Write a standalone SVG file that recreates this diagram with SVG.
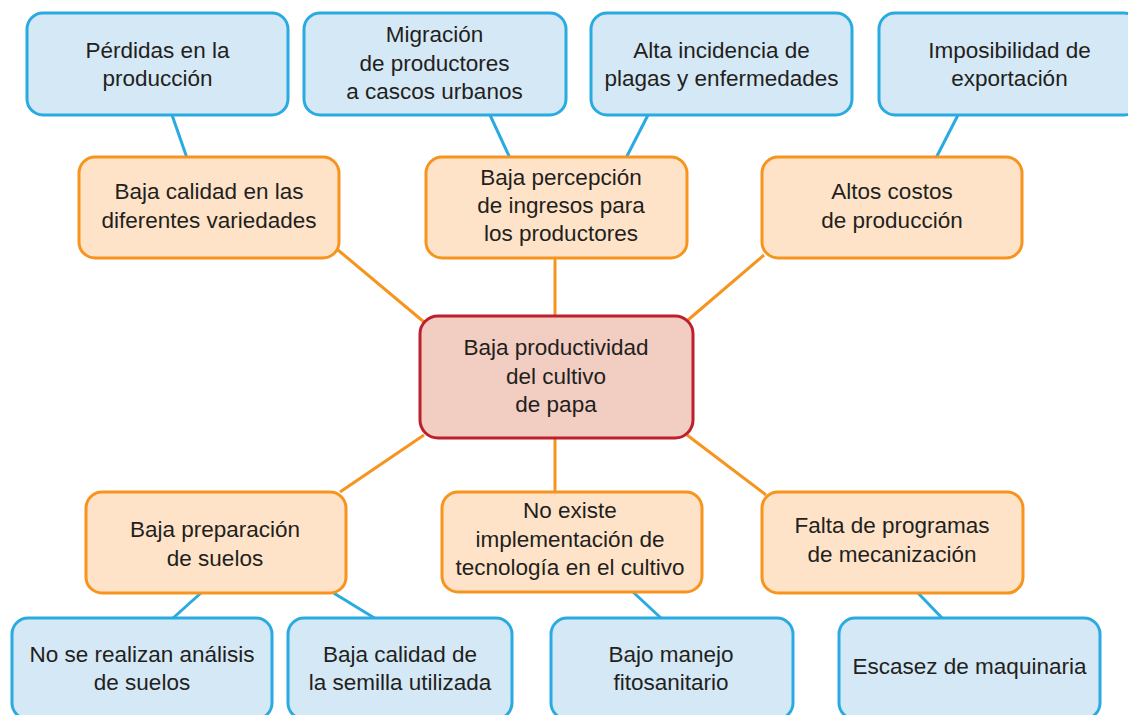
<svg xmlns="http://www.w3.org/2000/svg" width="1128" height="715" viewBox="0 0 1128 715">
<style>
.blue{fill:#d5e8f6;stroke:#29abe2;stroke-width:3}
.orange{fill:#fee3c8;stroke:#f7941e;stroke-width:3}
.center{fill:#f2cdc1;stroke:#be1e2d;stroke-width:3}
.lb{stroke:#29abe2;stroke-width:3;fill:none}
.lo{stroke:#f7941e;stroke-width:3;fill:none}
text{font-family:"Liberation Sans",Arial,sans-serif;font-size:22.5px;fill:#231f20;text-anchor:middle}
</style>
<rect width="1128" height="715" fill="#ffffff"/>
<g id="connectors">
<line class="lb" x1="172" y1="115" x2="187" y2="158"/>
<line class="lb" x1="490" y1="115" x2="510" y2="158"/>
<line class="lb" x1="648" y1="115" x2="626" y2="158"/>
<line class="lb" x1="958" y1="115" x2="936" y2="158"/>
<line class="lo" x1="338" y1="250" x2="424" y2="322"/>
<line class="lo" x1="555" y1="258" x2="555" y2="317"/>
<line class="lo" x1="764" y1="255" x2="688" y2="320"/>
<line class="lo" x1="424" y1="435" x2="340" y2="492"/>
<line class="lo" x1="555" y1="437" x2="555" y2="492"/>
<line class="lo" x1="687" y1="435" x2="766" y2="495"/>
<line class="lb" x1="202" y1="592" x2="172" y2="619"/>
<line class="lb" x1="332" y1="592" x2="376" y2="619"/>
<line class="lb" x1="633" y1="592" x2="662" y2="619"/>
<line class="lb" x1="917" y1="592" x2="943" y2="619"/>
</g>
<g id="n-perdidas">
<rect class="blue" x="27" y="13" width="261" height="102" rx="16"/>
<text x="157.5" y="58">Pérdidas en la</text>
<text x="157.5" y="86">producción</text>
</g>
<g id="n-migracion">
<rect class="blue" x="304" y="13" width="262" height="102" rx="16"/>
<text x="434.5" y="42">Migración</text>
<text x="434.5" y="71">de productores</text>
<text x="434.5" y="99">a cascos urbanos</text>
</g>
<g id="n-alta">
<rect class="blue" x="591" y="13" width="261" height="102" rx="16"/>
<text x="721.5" y="58">Alta incidencia de</text>
<text x="721.5" y="86">plagas y enfermedades</text>
</g>
<g id="n-imposibilidad">
<rect class="blue" x="879" y="13" width="261" height="102" rx="16"/>
<text x="1009.5" y="58">Imposibilidad de</text>
<text x="1009.5" y="86">exportación</text>
</g>
<g id="n-baja-calidad">
<rect class="orange" x="79" y="157" width="260" height="101" rx="16"/>
<text x="209" y="199">Baja calidad en las</text>
<text x="209" y="228">diferentes variedades</text>
</g>
<g id="n-baja-percepcion">
<rect class="orange" x="426" y="157" width="261" height="101" rx="16"/>
<text x="561" y="185">Baja percepción</text>
<text x="561" y="213">de ingresos para</text>
<text x="561" y="241">los productores</text>
</g>
<g id="n-altos-costos">
<rect class="orange" x="762" y="157" width="260" height="101" rx="16"/>
<text x="892" y="199">Altos costos</text>
<text x="892" y="228">de producción</text>
</g>
<g id="n-central">
<rect class="center" x="420" y="316" width="273" height="122" rx="18"/>
<text x="556" y="355">Baja productividad</text>
<text x="556" y="383.5">del cultivo</text>
<text x="556" y="412">de papa</text>
</g>
<g id="n-baja-preparacion">
<rect class="orange" x="86" y="492" width="260" height="101" rx="16"/>
<text x="215" y="537">Baja preparación</text>
<text x="215" y="566">de suelos</text>
</g>
<g id="n-no-existe">
<rect class="orange" x="442" y="492" width="260" height="100" rx="16"/>
<text x="570" y="518">No existe</text>
<text x="570" y="547">implementación de</text>
<text x="570" y="575">tecnología en el cultivo</text>
</g>
<g id="n-falta">
<rect class="orange" x="762" y="492" width="261" height="101" rx="16"/>
<text x="892" y="533">Falta de programas</text>
<text x="892" y="562">de mecanización</text>
</g>
<g id="n-no-se-realizan">
<rect class="blue" x="12" y="618" width="260" height="101" rx="16"/>
<text x="142" y="662">No se realizan análisis</text>
<text x="142" y="690">de suelos</text>
</g>
<g id="n-semilla">
<rect class="blue" x="288" y="618" width="224" height="101" rx="16"/>
<text x="400" y="662">Baja calidad de</text>
<text x="400" y="690">la semilla utilizada</text>
</g>
<g id="n-bajo-manejo">
<rect class="blue" x="551" y="618" width="242" height="101" rx="16"/>
<text x="671" y="662">Bajo manejo</text>
<text x="671" y="690">fitosanitario</text>
</g>
<g id="n-escasez">
<rect class="blue" x="839" y="618" width="261" height="101" rx="16"/>
<text x="969.5" y="674">Escasez de maquinaria</text>
</g>
</svg>
